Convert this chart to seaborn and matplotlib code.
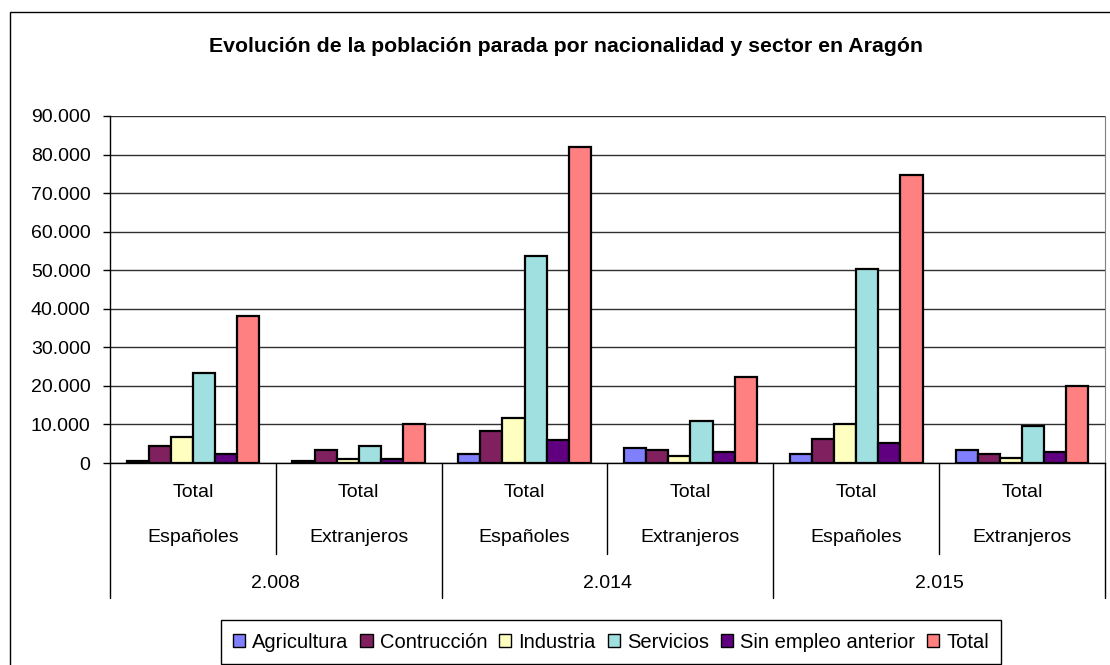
import pandas as pd
import matplotlib.pyplot as plt
import matplotlib.ticker as mticker
import matplotlib.transforms as mtransforms
from matplotlib.patches import Rectangle, Patch
import seaborn as sns

# ---------------- data ----------------
years = ["2.008", "2.014", "2.015"]
nationalities = ["Españoles", "Extranjeros"]
groups = ["2008 Esp", "2008 Ext", "2014 Esp", "2014 Ext", "2015 Esp", "2015 Ext"]
sectors = ["Agricultura", "Contrucción", "Industria", "Servicios", "Sin empleo anterior", "Total"]

agricultura = [600, 500, 2400, 3900, 2300, 3300]
construccion = [4400, 3400, 8300, 3400, 6200, 2300]
industria = [6700, 1000, 11700, 1900, 10100, 1400]
servicios = [23400, 4300, 53700, 10800, 50300, 9600]
sin_empleo = [2300, 1000, 5900, 2900, 5200, 2800]
total = [38100, 10200, 82000, 22400, 74800, 19900]

colors = ["#8080FF", "#80205F", "#FFFFC0", "#A0E0E0", "#600080", "#FF8080"]

rows = []
for sector, vals in zip(sectors, [agricultura, construccion, industria, servicios, sin_empleo, total]):
    for g, v in zip(groups, vals):
        rows.append({"grupo": g, "sector": sector, "valor": v})
df = pd.DataFrame(rows)

sns.set_style("white")
plt.rcParams["font.family"] = ["Liberation Sans", "DejaVu Sans"]
plt.rcParams["text.color"] = "black"
plt.rcParams["ytick.color"] = "black"

fig = plt.figure(figsize=(11.1, 6.65), dpi=100)
ax = fig.add_axes([110 / 1110, 1 - 463 / 665, 995 / 1110, 347 / 665])

sns.barplot(data=df, x="grupo", y="valor", hue="sector", order=groups, hue_order=sectors,
            palette=colors, saturation=1, edgecolor="black", linewidth=1.6, width=0.8,
            ax=ax, legend=False)

ax.set_ylim(0, 90000)
ax.set_xlim(-0.5, 5.5)
ax.yaxis.set_major_locator(mticker.MultipleLocator(10000))
ax.yaxis.set_major_formatter(mticker.FuncFormatter(lambda v, p: f"{int(v):,}".replace(",", ".")))
ax.grid(axis="y", color="#303030", linewidth=1)
ax.set_axisbelow(True)
ax.set_xlabel("")
ax.set_ylabel("")
ax.set_xticks([])
ax.tick_params(axis="y", left=True, length=5, width=1, direction="out", pad=9, labelsize=14,
               color="black", labelcolor="black")
for side in ["left", "bottom"]:
    ax.spines[side].set_color("black")
    ax.spines[side].set_linewidth(1)
ax.spines["right"].set_color("#808080")
ax.spines["top"].set_visible(False)

# multi-level category axis
trans = mtransforms.blended_transform_factory(ax.transData, ax.transAxes)
for i in range(len(groups)):
    ax.text(i, -0.084, "Total", transform=trans, ha="center", va="center", fontsize=14, color="black")
    ax.text(i, -0.216, nationalities[i % 2], transform=trans, ha="center", va="center", fontsize=14,
            color="black")
for j, y in enumerate(years):
    ax.text(2 * j + 0.5, -0.346, y, transform=trans, ha="center", va="center", fontsize=14, color="black")
for i in range(7):
    x = i - 0.5
    bottom = -0.389 if i % 2 == 0 else -0.262
    ax.plot([x, x], [0, bottom], transform=trans, color="black", linewidth=1, clip_on=False)

fig.text(566 / 1110, 1 - 47 / 665, "Evolución de la población parada por nacionalidad y sector en Aragón",
         ha="center", va="center", fontsize=15.3, fontweight="bold", color="black")

handles = [Patch(facecolor=c, edgecolor="black", linewidth=1) for c in colors]
leg = fig.legend(handles, sectors, loc="center", bbox_to_anchor=(611 / 1110, 1 - 642 / 665), ncol=6,
                 fontsize=14.5, frameon=True, fancybox=False, edgecolor="black", framealpha=1,
                 handlelength=0.6, handleheight=0.6, handletextpad=0.35, columnspacing=0.6,
                 borderpad=0.6)
leg.get_frame().set_linewidth(1)

fig.patches.append(Rectangle((10 / 1110, -0.05), 1.2, 1 - 12 / 665 + 0.05, transform=fig.transFigure,
                             fill=False, edgecolor="black", linewidth=1))

fig.savefig("out.png", dpi=100)
